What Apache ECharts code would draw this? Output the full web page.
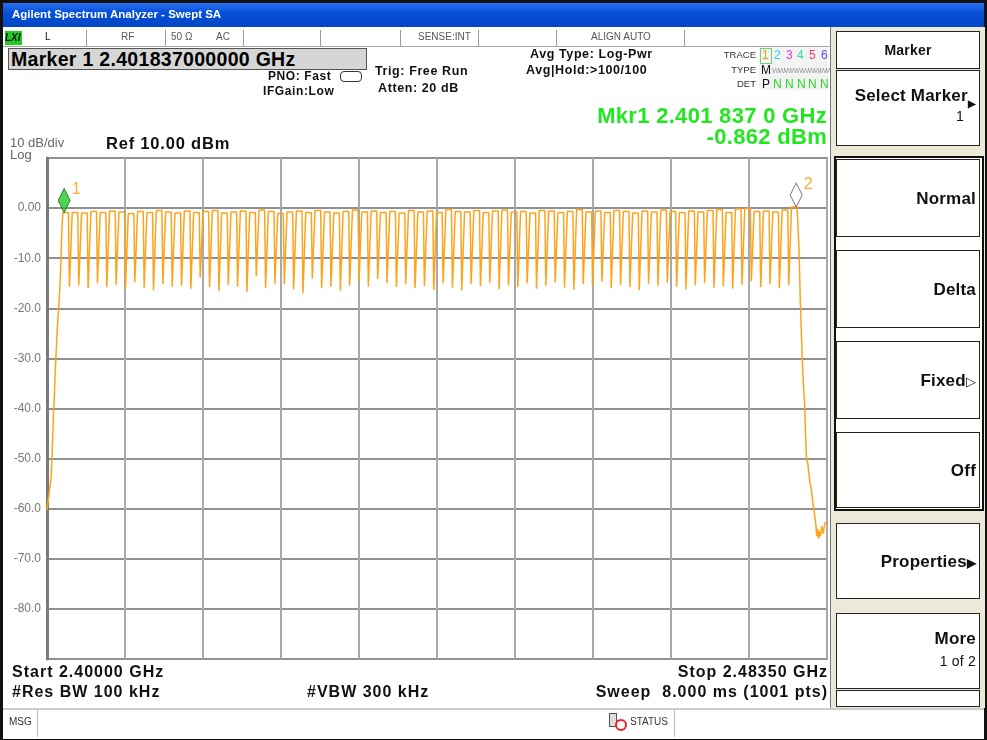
<!DOCTYPE html>
<html>
<head>
<meta charset="utf-8">
<script src="https://cdn.jsdelivr.net/npm/echarts@6/dist/echarts.min.js"></script>
<style>
  html, body { margin: 0; padding: 0; }
  body {
    width: 987px; height: 740px; position: relative; overflow: hidden;
    background: #fff; font-family: "Liberation Sans", Arial, sans-serif;
  }
  .abs { position: absolute; white-space: nowrap; }
  #frame { left: 0; top: 0; width: 981px; height: 734px; border: 3px solid #111; }
  #titlebar {
    left: 3px; top: 3px; width: 981px; height: 24px;
    background: linear-gradient(#2a6ff0, #0650d8 40%, #0446c4);
    color: #fff; font: bold 11.5px "Liberation Sans", sans-serif; line-height: 22px; padding-left: 9px;
    box-sizing: border-box;
  }
  #statusrow { left: 3px; top: 30px; width: 828px; height: 16px; border-bottom: 1px solid #aaa; }
  .sep { position: absolute; top: 30px; width: 1px; height: 16px; background: #999; }
  .srow { top: 31px; font-size: 10px; color: #555; }
  #mkrbox {
    left: 8px; top: 48px; width: 355px; height: 20px; background: #d6d6d6;
    border: 1px solid #555; font: bold 19.5px "Liberation Sans", Arial; line-height: 20px; padding-left: 2px;
    letter-spacing: 0.3px;
  }
  .hdr { font-size: 12.5px; font-weight: bold; color: #111; letter-spacing: 0.6px; }
  .grn { color: #22e622; font-weight: bold; font-size: 22px; letter-spacing: 0.3px; }
  .tt { position: absolute; font-size: 12px; line-height: 14px; }
  .tl { position: absolute; font-size: 9.5px; color: #333; right: 231px; }
  #chart { position: absolute; left: 0; top: 0; width: 987px; height: 740px; }
  #panel { left: 830px; top: 27px; width: 154px; height: 681px; background: #ece9d8; border-left: 1px solid #777; }
  .key {
    position: absolute; left: 836px; width: 144px; background: #fff; border: 1px solid #222;
    box-sizing: border-box; text-align: right; padding-right: 3px;
    font: bold 17px "Liberation Sans", Arial; color: #111; letter-spacing: 0.2px;
  }
  .bot { font: bold 16px "Liberation Sans", Arial; color: #111; letter-spacing: 1px; }
  #msgbar { left: 3px; top: 708px; width: 981px; height: 29px; border-top: 2px solid #ccc; background: #fff; }
</style>
</head>
<body>
<div id="chart"></div>

<div class="abs" id="frame"></div>
<div class="abs" id="titlebar">Agilent Spectrum Analyzer - Swept SA</div>

<!-- status row -->
<div class="abs" id="statusrow"></div>
<div class="abs" style="left:5px;top:31px;width:17px;height:14px;background:#22cc22;font:bold italic 10px Arial;line-height:14px;color:#111;">LXI</div>
<div class="sep" style="left:86px"></div>
<div class="sep" style="left:165px"></div>
<div class="sep" style="left:243px"></div>
<div class="sep" style="left:320px"></div>
<div class="sep" style="left:400px"></div>
<div class="sep" style="left:478px"></div>
<div class="sep" style="left:556px"></div>
<div class="sep" style="left:684px"></div>
<div class="abs srow" style="left:45px;color:#111">L</div>
<div class="abs srow" style="left:121px">RF</div>
<div class="abs srow" style="left:171px">50 Ω</div>
<div class="abs srow" style="left:216px">AC</div>
<div class="abs srow" style="left:418px">SENSE:INT</div>
<div class="abs srow" style="left:591px">ALIGN AUTO</div>

<div class="abs" id="mkrbox">Marker 1 2.401837000000 GHz</div>
<div class="abs hdr" style="left:268px;top:69px;font-size:12px">PNO: Fast</div>
<div class="abs" style="left:340px;top:71px;width:20px;height:9px;border:1px solid #333;border-radius:4px"></div>
<div class="abs hdr" style="left:263px;top:84px;font-size:12px">IFGain:Low</div>
<div class="abs hdr" style="left:375px;top:64px">Trig: Free Run</div>
<div class="abs hdr" style="left:378px;top:81px">Atten: 20 dB</div>
<div class="abs hdr" style="left:530px;top:47px">Avg Type: Log-Pwr</div>
<div class="abs hdr" style="left:526px;top:63px">Avg|Hold:&gt;100/100</div>

<!-- trace table -->
<div class="abs" style="left:759px;top:47px;width:69px;height:43px;background:#f3f3f3"></div>
<div class="abs" style="left:760px;top:48px;width:10px;height:14px;border:1px solid #7c7"></div>
<div class="tl" style="top:49px">TRACE</div>
<div class="tl" style="top:64px">TYPE</div>
<div class="tl" style="top:78px">DET</div>
<div class="tt" style="left:762px;top:48px;color:#ff9900">1</div>
<div class="tt" style="left:774px;top:48px;color:#22ddee">2</div>
<div class="tt" style="left:786px;top:48px;color:#ee33dd">3</div>
<div class="tt" style="left:797px;top:48px;color:#33ddaa">4</div>
<div class="tt" style="left:809px;top:48px;color:#ff3377">5</div>
<div class="tt" style="left:821px;top:48px;color:#6644ff">6</div>
<div class="tt" style="left:761px;top:63px;color:#111">M</div>
<div class="tt" style="left:772px;top:64px;color:#999;font-size:8px;letter-spacing:-1.6px">WWWWWWWWWWW</div>
<div class="tt" style="left:762px;top:77px;color:#111">P</div>
<div class="tt" style="left:773px;top:77px;color:#22dd22">N</div>
<div class="tt" style="left:785px;top:77px;color:#22dd22">N</div>
<div class="tt" style="left:797px;top:77px;color:#22dd22">N</div>
<div class="tt" style="left:808px;top:77px;color:#22dd22">N</div>
<div class="tt" style="left:820px;top:77px;color:#22dd22">N</div>

<div class="abs grn" style="right:160px;top:103px">Mkr1 2.401 837 0 GHz</div>
<div class="abs grn" style="right:160px;top:124px">-0.862 dBm</div>

<div class="abs" style="left:10px;top:137px;font-size:13px;color:#666;line-height:12px">10 dB/div<br>Log</div>
<div class="abs bot" style="left:106px;top:134px;font-size:16.5px;letter-spacing:0.8px">Ref 10.00 dBm</div>

<!-- bottom annotations -->
<div class="abs bot" style="left:12px;top:663px">Start 2.40000 GHz</div>
<div class="abs bot" style="left:12px;top:683px">#Res BW 100 kHz</div>
<div class="abs bot" style="left:307px;top:683px">#VBW 300 kHz</div>
<div class="abs bot" style="right:159px;top:663px">Stop 2.48350 GHz</div>
<div class="abs bot" style="right:159px;top:683px">Sweep&nbsp;&nbsp;8.000 ms (1001 pts)</div>

<div class="abs" id="msgbar"></div>
<div class="abs" style="left:9px;top:716px;font-size:10px;color:#333">MSG</div>
<div class="abs" style="left:37px;top:710px;width:1px;height:27px;background:#bbb"></div>
<div class="abs" style="left:609px;top:713px;width:6px;height:12px;border:1px solid #555;background:#ddd"></div>
<div class="abs" style="left:615px;top:719px;width:8px;height:8px;border:2px solid #e22;border-radius:50%;background:#fff"></div>
<div class="abs" style="left:630px;top:716px;font-size:10px;color:#333">STATUS</div>
<div class="abs" style="left:674px;top:710px;width:1px;height:27px;background:#bbb"></div>

<!-- softkey panel -->
<div class="abs" id="panel"></div>
<div class="key" style="top:31px;height:38px;text-align:center;font:bold 14px 'Liberation Sans';line-height:36px;padding:0">Marker</div>
<div class="key" style="top:70px;height:76px;line-height:18px;padding-top:16px">Select Marker<span style="font-size:10px;position:relative;top:6px">&#9654;</span><br><span style="font-weight:normal;font-size:14px;padding-right:12px">1</span></div>
<div class="abs" style="left:834px;top:156px;width:146px;height:351px;border:2px solid #111;background:#fff"></div>
<div class="key" style="top:159px;height:78px;line-height:78px">Normal</div>
<div class="key" style="top:250px;height:78px;line-height:78px">Delta</div>
<div class="key" style="top:341px;height:78px;line-height:78px">Fixed<span style="font-weight:normal;font-size:13px">&#9655;</span></div>
<div class="key" style="top:432px;height:76px;line-height:76px">Off</div>
<div class="key" style="top:523px;height:76px;line-height:76px">Properties<span style="font-size:12px">&#9654;</span></div>
<div class="key" style="top:613px;height:76px;line-height:22px;padding-top:14px">More<br><span style="font-weight:normal;font-size:14px">1 of 2</span></div>
<div class="key" style="top:690px;height:17px"></div>

<script>
// sweep settings (MHz)
const startMHz = 2400.0;
const stopMHz = 2483.5;
const firstChannelMHz = 2402;

// flat-top level of each of the 79 hopping channels (dBm)
const chanTop = [
  -0.86, -0.9, -1.0, -0.7, -0.9, -0.6, -0.8, -1.1, -0.7, -0.9,
  -0.5, -0.8, -1.0, -0.6, -0.9, -0.7, -0.5, -1.0, -0.8, -0.6,
  -0.9, -0.4, -0.7, -1.1, -0.8, -0.6, -0.9, -0.5, -0.8, -1.0,
  -0.7, -0.4, -0.8, -0.6, -0.9, -0.7, -1.0, -0.5, -0.8, -0.6,
  -0.9, -0.3, -0.7, -0.8, -0.5, -0.9, -0.6, -0.4, -0.8, -0.7,
  -1.0, -0.5, -0.6, -0.9, -0.7, -0.3, -0.8, -0.6, -0.9, -0.5,
  -0.7, -1.0, -0.6, -0.8, -0.4, -0.7, -0.9, -0.6, -0.8, -0.5,
  -0.3, -0.9, -0.2, -0.1, -0.7, -0.6, -0.8, -0.4, 0.2
];

// bottom of the notch between neighbouring channels (dBm), 78 gaps
const chanDip = [
  -15.7, -15.4, -16.0, -15.0, -15.8, -15.3, -16.2, -14.8, -15.9, -16.4,
  -15.2, -15.7, -15.5, -16.1, -13.9, -15.8, -16.6, -15.3, -15.7, -16.7,
  -13.6, -16.0, -15.1, -15.2, -16.2, -17.0, -14.1, -16.0, -15.7, -16.5,
  -15.5, -14.6, -15.7, -14.2, -15.0, -15.8, -15.2, -16.0, -15.6, -16.3,
  -15.0, -15.9, -16.4, -15.1, -15.6, -14.9, -16.2, -15.4, -15.8, -15.0,
  -16.1, -15.5, -14.8, -15.9, -16.3, -15.2, -15.6, -14.7, -16.0, -15.3,
  -15.8, -16.4, -15.1, -15.5, -14.9, -15.7, -16.2, -15.4, -15.0, -15.9,
  -15.6, -16.1, -15.3, -14.6, -15.8, -15.2, -16.0, -15.4
];

// band edges [MHz, dBm]
const leftSkirt = [
  [2400.0, -60.2], [2400.08, -59.0], [2400.2, -57.5], [2400.35, -55.0], [2400.45, -53.5],
  [2400.55, -49.0], [2400.7, -41.0], [2400.78, -38.0], [2400.85, -34.0], [2400.95, -30.0],
  [2401.1, -24.0], [2401.25, -20.0], [2401.4, -15.0], [2401.5, -10.0], [2401.6, -4.0]
];
const rightSkirt = [
  [2480.5, -8.0], [2480.65, -19.0], [2480.85, -30.0], [2481.0, -36.0], [2481.1, -39.0],
  [2481.2, -45.0], [2481.3, -50.0], [2481.45, -51.0], [2481.55, -53.0], [2481.7, -55.0],
  [2481.85, -56.5], [2482.0, -59.0], [2482.15, -61.0], [2482.3, -63.0], [2482.4, -65.5],
  [2482.5, -64.0], [2482.6, -66.0], [2482.7, -64.5], [2482.8, -65.5], [2482.95, -63.5],
  [2483.1, -65.0], [2483.25, -63.0], [2483.4, -62.8], [2483.5, -62.5]
];

// markers [MHz, dBm]
const marker1 = [2401.837, -0.862];
const marker2 = [2480.2, 0.2];

const yTicks = [10, 0, -10, -20, -30, -40, -50, -60, -70, -80, -90];

// build the trace; x is plotted as offset from the start frequency
const off = (f) => +(f - startMHz).toFixed(4);
const trace = leftSkirt.map((p) => [off(p[0]), p[1]]);
chanTop.forEach((lvl, i) => {
  const c = firstChannelMHz + i;
  trace.push([off(c - 0.3), lvl], [off(c + 0.3), lvl]);
  if (i < chanDip.length) trace.push([off(c + 0.4), chanDip[i]], [off(c + 0.6), chanDip[i]]);
});
rightSkirt.forEach((p) => trace.push([off(p[0]), p[1]]));

const chart = echarts.init(document.getElementById('chart'));
chart.setOption({
  backgroundColor: 'transparent',
  animation: false,
  grid: {
    left: 47, top: 158, width: 780, height: 501,
    show: true, borderColor: '#8a8a8a', borderWidth: 2, backgroundColor: '#fff'
  },
  xAxis: {
    type: 'value', min: 0, max: off(stopMHz), interval: (stopMHz - startMHz) / 10,
    axisLabel: { show: false }, axisTick: { show: false }, axisLine: { show: false },
    splitLine: { lineStyle: { color: '#a8a8a8', width: 2 } }
  },
  yAxis: {
    type: 'value', min: yTicks[yTicks.length - 1], max: yTicks[0], interval: 10,
    axisLine: { show: true, lineStyle: { color: '#7a7a7a', width: 3 } },
    axisTick: { show: false },
    axisLabel: {
      color: '#777', fontSize: 12, fontFamily: 'Liberation Sans', margin: 6,
      formatter: (v) => (v === 10 || v === -90 ? '' : v === 0 ? '0.00' : v.toFixed(1))
    },
    splitLine: { lineStyle: { color: '#909090', width: 2 } }
  },
  series: [
    {
      type: 'line', data: trace, symbol: 'none',
      lineStyle: { color: '#ffa31a', width: 1.5 }
    },
    {
      type: 'scatter', data: [[off(marker1[0]), marker1[1]]],
      symbol: 'diamond', symbolSize: [12, 24], symbolOffset: [0, '-50%'],
      itemStyle: { color: '#22cc22', borderColor: '#116611', borderWidth: 1 },
      label: { show: true, formatter: '1', position: [14, -6], color: '#ff9900', fontSize: 16, fontFamily: 'Liberation Sans' },
      z: 5
    },
    {
      type: 'scatter', data: [[off(marker2[0]), marker2[1]]],
      symbol: 'diamond', symbolSize: [12, 24], symbolOffset: [0, '-50%'],
      itemStyle: { color: '#fff', borderColor: '#555', borderWidth: 1 },
      label: { show: true, formatter: '2', position: [14, -6], color: '#ff9900', fontSize: 16, fontFamily: 'Liberation Sans' },
      z: 5
    }
  ]
});
</script>
</body>
</html>
